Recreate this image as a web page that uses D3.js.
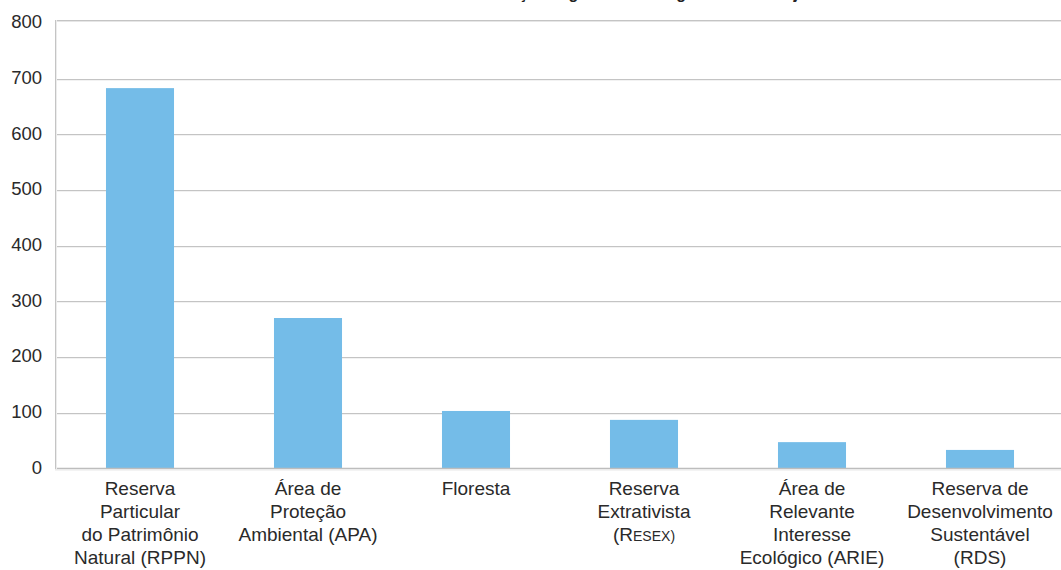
<!DOCTYPE html>
<html>
<head>
<meta charset="utf-8">
<script src="https://cdn.jsdelivr.net/npm/d3@7"></script>
<style>
  html, body { margin: 0; padding: 0; background: #fff; }
  svg { display: block; }
  text { font-family: "Liberation Sans", Arial, Helvetica, sans-serif; }
</style>
</head>
<body>
<script>
// ---- data ----
const categories = ["RPPN", "APA", "Floresta", "RESEX", "ARIE", "RDS"];
const categoryLabels = [
  ["Reserva", "Particular", "do Patrimônio", "Natural (RPPN)"],
  ["Área de", "Proteção", "Ambiental (APA)"],
  ["Floresta"],
  ["Reserva", "Extrativista", "(RESEX)"],
  ["Área de", "Relevante", "Interesse", "Ecológico (ARIE)"],
  ["Reserva de", "Desenvolvimento", "Sustentável", "(RDS)"]
];
const values = [683, 270, 103, 87, 47, 33];
const yTicks = [0, 100, 200, 300, 400, 500, 600, 700, 800];
const titleText = "Número de Unidades de Conservação segundo as categorias de manejo";

// ---- layout ----
const W = 1061, H = 570;
const plotLeft = 55, plotRight = 1061, plotTop = 20;

const svg = d3.select("body").append("svg").attr("width", W).attr("height", H);

const x = d3.scaleBand().domain(categories).range([56, 1064])
  .paddingInner(0.595).paddingOuter(0.2975);
const y = d3.scaleLinear().domain([0, 800]).range([468.3, 23]);

// title (cut off at top edge, as in the reference)
svg.append("text")
  .attr("x", 533).attr("y", -1.5)
  .attr("text-anchor", "middle")
  .attr("font-size", 16).attr("font-weight", "bold").attr("fill", "#222")
  .text(titleText);

// gridlines
const grid = svg.append("g");
grid.selectAll("line.g2").data(yTicks.filter(d => d > 0 && d < 800)).join("line")
  .attr("x1", plotLeft).attr("x2", plotRight)
  .attr("y1", d => Math.round(y(d)) + 1).attr("y2", d => Math.round(y(d)) + 1)
  .attr("stroke", "#e6e6e6").attr("stroke-width", 1);
grid.selectAll("line.g1").data(yTicks.filter(d => d > 0 && d < 800)).join("line")
  .attr("x1", plotLeft).attr("x2", plotRight)
  .attr("y1", d => Math.round(y(d)) + 0.5).attr("y2", d => Math.round(y(d)) + 0.5)
  .attr("stroke", "#c4c4c4").attr("stroke-width", 1);

// frame: top line
svg.append("line").attr("x1", plotLeft).attr("x2", plotRight)
  .attr("y1", plotTop + 0.5).attr("y2", plotTop + 0.5)
  .attr("stroke", "#c4c4c4").attr("stroke-width", 1);
svg.append("line").attr("x1", plotLeft).attr("x2", plotRight)
  .attr("y1", plotTop + 1.5).attr("y2", plotTop + 1.5)
  .attr("stroke", "#e6e6e6").attr("stroke-width", 1);

// bars
svg.append("g").selectAll("rect").data(values).join("rect")
  .attr("x", (d, i) => x(categories[i]))
  .attr("width", x.bandwidth())
  .attr("y", d => y(d))
  .attr("height", d => y(0) - y(d))
  .attr("fill", "#74bce8");

// baseline and left axis
svg.append("line").attr("x1", plotLeft).attr("x2", plotRight)
  .attr("y1", 468.5).attr("y2", 468.5)
  .attr("stroke", "#bdbdbd").attr("stroke-width", 1.5);
svg.append("line").attr("x1", plotLeft).attr("x2", plotRight)
  .attr("y1", 470).attr("y2", 470)
  .attr("stroke", "#e8e8e8").attr("stroke-width", 1);
svg.append("line").attr("x1", plotLeft + 0.5).attr("x2", plotLeft + 0.5)
  .attr("y1", plotTop).attr("y2", 469)
  .attr("stroke", "#c4c4c4").attr("stroke-width", 1);
svg.append("line").attr("x1", plotLeft + 1.5).attr("x2", plotLeft + 1.5)
  .attr("y1", plotTop).attr("y2", 469)
  .attr("stroke", "#ececec").attr("stroke-width", 1);

// y axis labels
svg.append("g").selectAll("text").data(yTicks).join("text")
  .attr("x", 42)
  .attr("y", d => y(d) - 1)
  .attr("dy", "0.35em")
  .attr("text-anchor", "end")
  .attr("font-size", 18.5).attr("fill", "#2a2a2a")
  .text(d => d);

// x labels
const xl = svg.append("g").selectAll("text").data(categories).join("text")
  .attr("text-anchor", "middle")
  .attr("font-size", 19).attr("fill", "#2a2a2a")
  .attr("transform", d => `translate(${x(d) + x.bandwidth() / 2},495)`);
xl.each(function(d, i) {
  const t = d3.select(this);
  categoryLabels[i].forEach((line, j) => {
    const ts = t.append("tspan").attr("x", 0).attr("y", j * 23);
    if (line === "(RESEX)") {
      ts.text("(R");
      ts.append("tspan").attr("font-size", 14).text("ESEX)");
    } else {
      ts.text(line);
    }
  });
});
</script>
</body>
</html>
